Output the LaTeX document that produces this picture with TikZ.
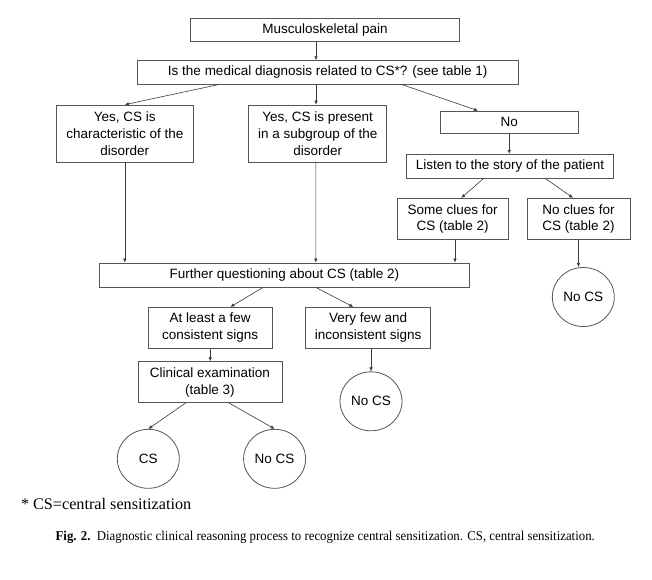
\documentclass[tikz,border=0pt]{standalone}
\usepackage{fontspec}
\setmainfont{Liberation Serif}
\newfontfamily\fsans{Liberation Sans}
\newfontfamily\fcap[FakeStretch=0.95]{Liberation Serif}
\usetikzlibrary{arrows.meta,shapes.geometric}
\definecolor{edgec}{HTML}{555555}
\definecolor{arrowc}{HTML}{3A3A3A}
\begin{document}
\begin{tikzpicture}[x=1pt,y=-1pt,
  box/.style={draw=edgec,line width=0.8pt,inner sep=0pt,align=center,font=\fsans\fontsize{13.5}{16.7}\selectfont},
  circ/.style={draw=edgec,line width=0.8pt,ellipse,inner sep=0pt,minimum width=62pt,minimum height=59pt,font=\fsans\fontsize{13.5}{16.7}\selectfont},
  arr/.style={draw=arrowc,line width=0.6pt,-{Latex[length=4pt,width=3.5pt]}}]
\fill[white] (0,0) rectangle (652,579);
\useasboundingbox (0,0) rectangle (652,579);
\node[box,minimum width=269pt,minimum height=23.4pt] (m) at (325,30) {Musculoskeletal pain};
\node[box,minimum width=380.5pt,minimum height=23.3pt] (q) at (327.7,72.3) {Is the medical diagnosis related to CS*? (see table 1)};
\node[box,minimum width=136.3pt,minimum height=57.3pt] (y1) at (124.8,133.7) {Yes, CS is\\characteristic of the\\disorder};
\node[box,minimum width=138pt,minimum height=57.3pt] (y2) at (317.7,133.7) {Yes, CS is present\\in a subgroup of the\\disorder};
\node[box,minimum width=137.5pt,minimum height=22.3pt] (no) at (509.2,122.2) {No};
\node[box,minimum width=207.5pt,minimum height=24pt] (ls) at (510,166.3) {Listen to the story of the patient};
\node[box,minimum width=111.3pt,minimum height=41.4pt] (sc) at (452.7,219) {Some clues for\\CS (table 2)};
\node[box,minimum width=103pt,minimum height=41.4pt] (nc) at (578.5,219) {No clues for\\CS (table 2)};
\node[circ] (ncs1) at (583.3,297) {No CS};
\node[box,minimum width=370.4pt,minimum height=24pt] (fq) at (284.4,275) {Further questioning about CS (table 2)};
\node[box,minimum width=124.5pt,minimum height=41pt] (al) at (210.2,327.8) {At least a few\\consistent signs};
\node[box,minimum width=124.6pt,minimum height=41pt] (vf) at (368.1,327.8) {Very few and\\inconsistent signs};
\node[box,minimum width=144.1pt,minimum height=41pt] (ce) at (210,382.2) {Clinical examination\\(table 3)};
\node[circ] (ncs2) at (371,401.3) {No CS};
\node[circ] (cs) at (148.3,458.8) {CS};
\node[circ] (ncs3) at (274.6,458.8) {No CS};
% connectors
\draw[arr] ([xshift=-9pt]m.south) -- ([xshift=-11.7pt]q.north);
\draw[arr] ([xshift=-108.1pt]q.south) -- (y1.north);
\draw[arr] ([xshift=-11.7pt]q.south) -- ([xshift=-1.7pt]y2.north);
\draw[arr] ([xshift=73.55pt]q.south) -- ([xshift=-31.2pt]no.north);
\draw[arr] (y1.south) -- (y1.south |- fq.north);
\draw[arr] ([xshift=-1.9pt]y2.south) -- ([xshift=31.4pt]fq.north);
\draw[arr] (no.south) -- (no.south |- ls.north);
\draw[arr] ([xshift=-26.7pt]ls.south) -- ([xshift=8.55pt]sc.north);
\draw[arr] ([xshift=35.8pt]ls.south) -- ([xshift=-5.5pt]nc.north);
\draw[arr] ([xshift=2.3pt]sc.south) -- ([xshift=170.6pt]fq.north);
\draw[arr] (nc.south) -- (nc.south |- ncs1.north);
\draw[arr] ([xshift=-21.5pt]fq.south) -- ([xshift=20.2pt]al.north);
\draw[arr] ([xshift=31.4pt]fq.south) -- ([xshift=-14.8pt]vf.north);
\draw[arr] (al.south) -- (al.south |- ce.north);
\draw[arr] (vf.south -| ncs2.north) -- (ncs2.north);
\draw[arr] ([xshift=-24.6pt]ce.south) -- (cs.north);
\draw[arr] ([xshift=19.2pt]ce.south) -- (ncs3.north);
% texts
\node[anchor=base west,inner sep=0pt,font=\fontsize{16.2}{19}\selectfont] (fn) at (20.8,509) {* CS=central sensitization};
\node[anchor=base west,inner sep=0pt,font=\fcap\fontsize{13.5}{16}\selectfont] (cap) at (55.4,540) {\textbf{Fig. 2.}\ \ Diagnostic clinical reasoning process to recognize central sensitization. CS, central sensitization.};
\end{tikzpicture}
\end{document}
